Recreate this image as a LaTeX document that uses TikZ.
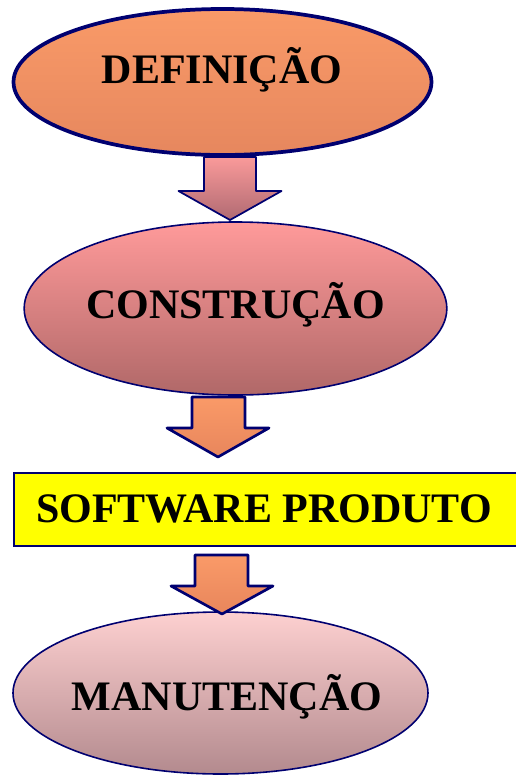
\documentclass[tikz,border=0pt]{standalone}
\usepackage{fontspec}
\setmainfont{Liberation Serif}
\usetikzlibrary{shapes.geometric,calc}
\definecolor{navy}{RGB}{0,0,112}
\definecolor{defT}{HTML}{F99A68}
\definecolor{defB}{HTML}{E6875E}
\definecolor{conT}{HTML}{FF9A9A}
\definecolor{conB}{HTML}{B06868}
\definecolor{manT}{HTML}{FDD0D0}
\definecolor{manB}{HTML}{B38A8E}
\definecolor{arrPT}{HTML}{FA9A9A}
\definecolor{arrPB}{HTML}{B06A72}
\definecolor{arrOT}{HTML}{FA9A68}
\definecolor{arrOB}{HTML}{E8865C}
\definecolor{yel}{HTML}{FFFF00}
\tikzset{
  ell/.style={ellipse, draw=navy, inner sep=0pt},
  lbl/.style={font=\fontsize{31.5}{36}\selectfont\bfseries, inner sep=0pt, anchor=base},
  barrow/.style={draw=navy, line join=round},
}
\begin{document}
\begin{tikzpicture}[x=0.75pt,y=-0.75pt]
\useasboundingbox (0,0) rectangle (516,775);
% ellipses
\node[ell, line width=2.8pt, minimum width=313.5pt, minimum height=109.5pt, top color=defT, bottom color=defB] (def) at (222.5,82) {};
\node[ell, line width=1.2pt, minimum width=317pt, minimum height=129.75pt, top color=conT, bottom color=conB] (con) at (235.5,308.5) {};
\node[draw=navy, line width=0.8pt, fill=yel, minimum width=378pt, minimum height=54.75pt, inner sep=0pt] (sw) at (266,509.5) {};
\node[ell, line width=1.2pt, minimum width=311.25pt, minimum height=121.5pt, top color=manT, bottom color=manB] (man) at (220.5,693) {};
% labels
\node[lbl] (defl) at (222,83) {DEFINIÇÃO};
\node[lbl] (conl) at (235.5,318) {CONSTRUÇÃO};
\node[lbl] (swl) at (264,522) {SOFTWARE PRODUTO};
\node[lbl] (manl) at (227,710) {MANUTENÇÃO};
% block arrows
\draw[barrow, line width=1.3pt, top color=arrPT, bottom color=arrPB]
  (204,157) -- (256,157) -- (256,191) -- (281.5,191) -- (230,220) -- (178.5,191) -- (204,191) -- cycle;
\draw[barrow, line width=2pt, top color=arrOT, bottom color=arrOB]
  (192,397) -- (245,397) -- (245,428) -- (269,428) -- (218,457) -- (167,428) -- (192,428) -- cycle;
\draw[barrow, line width=2pt, top color=arrOT, bottom color=arrOB]
  (195,555) -- (248,555) -- (248,586) -- (273,586) -- (222,614) -- (171,586) -- (195,586) -- cycle;
\end{tikzpicture}
\end{document}
